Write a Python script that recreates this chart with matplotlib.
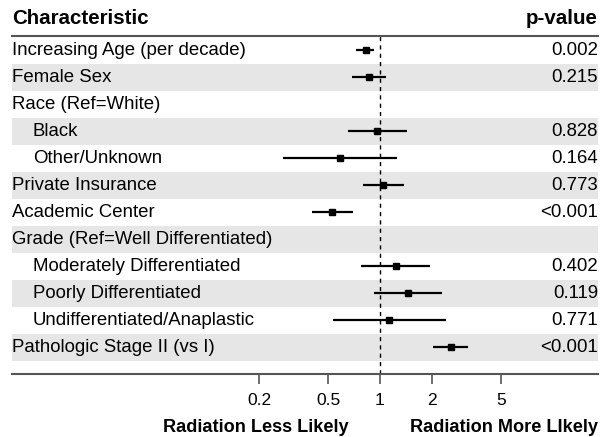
import numpy as np
import matplotlib
matplotlib.use("Agg")
import matplotlib.pyplot as plt
from matplotlib.transforms import blended_transform_factory

plt.rcParams['font.family'] = ['Liberation Sans', 'DejaVu Sans']

labels = ["Increasing Age (per decade)", "Female Sex", "Race (Ref=White)", "Black",
          "Other/Unknown", "Private Insurance", "Academic Center",
          "Grade (Ref=Well Differentiated)", "Moderately Differentiated",
          "Poorly Differentiated", "Undifferentiated/Anaplastic", "Pathologic Stage II (vs I)"]
indented = [False, False, False, True, True, False, False, False, True, True, True, False]
est = [0.83, 0.867, None, 0.96, 0.586, 1.045, 0.527, None, 1.23, 1.46, 1.13, 2.58]
lo = [0.726, 0.69, None, 0.65, 0.274, 0.80, 0.404, None, 0.776, 0.92, 0.532, 2.03]
hi = [0.92, 1.08, None, 1.43, 1.25, 1.38, 0.695, None, 1.95, 2.30, 2.40, 3.23]
pvals = ["0.002", "0.215", "", "0.828", "0.164", "0.773", "<0.001", "",
         "0.402", "0.119", "0.771", "<0.001"]
ticks = [0.2, 0.5, 1, 2, 5]
tick_labels = ["0.2", "0.5", "1", "2", "5"]

W, H = 607, 437
fig = plt.figure(figsize=(W / 100, H / 100), dpi=100)
ax = fig.add_axes([12 / W, 1 - 374 / H, 586 / W, 338 / H])

# log axis spanning the full table width, 1 at x=380px
ppd = 172.7
ax.set_xscale('log')
ax.set_xlim(10 ** ((12 - 380) / ppd), 10 ** ((598 - 380) / ppd))
ax.set_ylim(12.0, -0.52)

for i in range(len(labels)):
    if i % 2 == 1:
        ax.axhspan(i - 0.5, i + 0.5, color='#e6e6e6', lw=0, zorder=0)

ax.axvline(1, color='black', ls=(0, (3, 3)), lw=1, zorder=2)

for i in range(len(labels)):
    if est[i] is None:
        continue
    ax.plot([lo[i], hi[i]], [i, i], color='black', lw=1.6, zorder=3, solid_capstyle='butt')
    ax.plot(est[i], i, marker='s', ms=4.5, color='black', zorder=4)

tr = blended_transform_factory(ax.transAxes, ax.transData)
for i, lab in enumerate(labels):
    x = 21 / 586 if indented[i] else 0.0
    ax.text(x, i, lab, transform=tr, ha='left', va='center', fontsize=13.4)
    ax.text(1.0, i, pvals[i], transform=tr, ha='right', va='center', fontsize=13.4)

ax.text(0.0, -1.18, "Characteristic", transform=tr, ha='left', va='center',
        fontsize=14.8, fontweight='bold', clip_on=False)
ax.text(1.0, -1.18, "p-value", transform=tr, ha='right', va='center',
        fontsize=14.8, fontweight='bold', clip_on=False)

for s in ['left', 'right']:
    ax.spines[s].set_visible(False)
for s in ['top', 'bottom']:
    ax.spines[s].set_color('#555555')
    ax.spines[s].set_linewidth(1.5)

ax.set_yticks([])
ax.set_xticks(ticks)
ax.set_xticklabels(tick_labels)
ax.xaxis.set_minor_locator(matplotlib.ticker.NullLocator())
ax.tick_params(axis='x', length=7.5, width=1.2, color='#555555', pad=6, labelsize=12.5)

fig.text(163 / W, 1 - 428 / H, "Radiation Less Likely", ha='left', va='center',
         fontsize=13.1, fontweight='bold')
fig.text(598 / W, 1 - 428 / H, "Radiation More LIkely", ha='right', va='center',
         fontsize=13.1, fontweight='bold')

fig.savefig("out.png", dpi=100)
